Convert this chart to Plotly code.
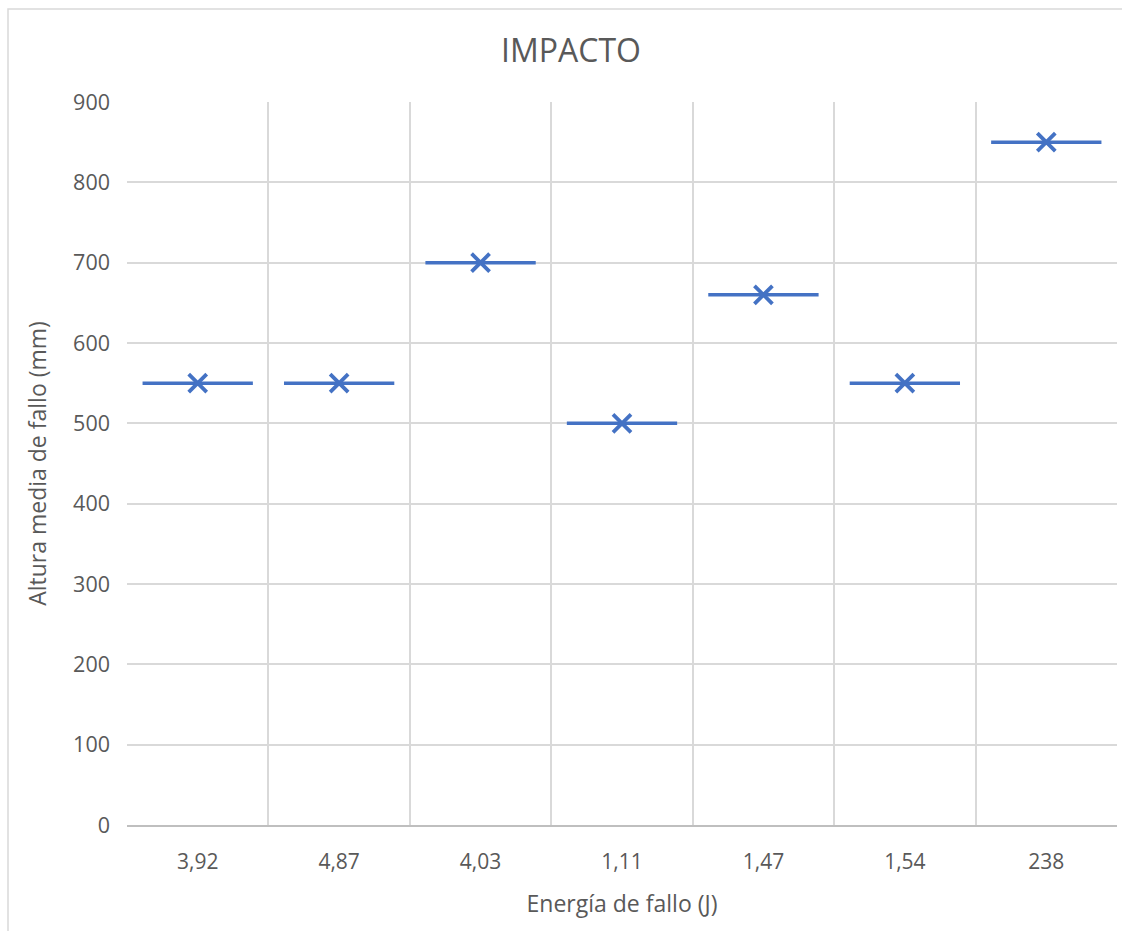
import plotly.graph_objects as go

# Energía de fallo (J) categories and mean failure heights (mm)
categorias = ["3,92", "4,87", "4,03", "1,11", "1,47", "1,54", "238"]
altura_mediana = [550, 550, 700, 500, 660, 550, 850]
altura_media = [550, 550, 700, 500, 660, 550, 850]

AZUL = "#4472C4"
GRIS_TEXTO = "#595959"
GRIS_REJILLA = "#d9d9d9"
FUENTE = "Open Sans, Liberation Sans, sans-serif"

W, H = 1122, 931
L, R, T, B = 127, 5, 102, 106

posiciones = list(range(len(categorias)))
media_ancho = 0.39

# Median lines as horizontal segments, one per category
xs, ys = [], []
for p, v in zip(posiciones, altura_mediana):
    xs += [p - media_ancho, p + media_ancho, None]
    ys += [v, v, None]

fig = go.Figure()
fig.add_trace(go.Scatter(
    x=xs, y=ys, mode="lines",
    line=dict(color=AZUL, width=3.5),
    hoverinfo="skip", showlegend=False,
))
fig.add_trace(go.Scatter(
    x=posiciones, y=altura_media, mode="markers",
    marker=dict(symbol="x-thin", size=18, line=dict(color=AZUL, width=3.8)),
    showlegend=False,
))

# Chart border (top/left visible)
pw, ph = W - L - R, H - T - B
fig.add_shape(
    type="rect", xref="paper", yref="paper",
    x0=(8 - L) / pw, x1=(W + 5 - L) / pw,
    y0=(H - B - (H + 5)) / ph, y1=(H - B - 9) / ph,
    line=dict(color=GRIS_REJILLA, width=1.5), fillcolor="rgba(0,0,0,0)",
    layer="below",
)

fig.update_layout(
    width=W, height=H,
    margin=dict(l=L, r=R, t=T, b=B),
    paper_bgcolor="white", plot_bgcolor="white",
    font=dict(family=FUENTE, color=GRIS_TEXTO, size=21),
    title=dict(
        text="IMPACTO", x=571 / W, xref="container", xanchor="center",
        y=1 - 51 / H, yref="container", yanchor="middle",
        font=dict(size=32, color=GRIS_TEXTO, family=FUENTE),
    ),
    xaxis=dict(
        range=[-0.5, len(categorias) - 0.5],
        tickmode="array", tickvals=posiciones, ticktext=categorias,
        showgrid=False, zeroline=False,
        showline=True, linecolor="#bfbfbf", linewidth=1.5,
        ticks="", ticklabelstandoff=17,
        tickfont=dict(size=21, color=GRIS_TEXTO),
        minor=dict(tickmode="linear", tick0=-0.5, dtick=1,
                   showgrid=True, gridcolor=GRIS_REJILLA, gridwidth=1.5),
        title=dict(text="Energía de fallo (J)", standoff=22,
                   font=dict(size=23, color=GRIS_TEXTO)),
        fixedrange=True,
    ),
    yaxis=dict(
        range=[0, 900], tickmode="linear", tick0=0, dtick=100,
        showgrid=True, gridcolor=GRIS_REJILLA, gridwidth=1.5,
        zeroline=False, showline=False, ticks="",
        ticklabelstandoff=16,
        tickfont=dict(size=21.5, color=GRIS_TEXTO),
        title=dict(text="Altura media de fallo (mm)", standoff=20,
                   font=dict(size=23, color=GRIS_TEXTO)),
        fixedrange=True,
    ),
)

fig.write_html("out.html")
